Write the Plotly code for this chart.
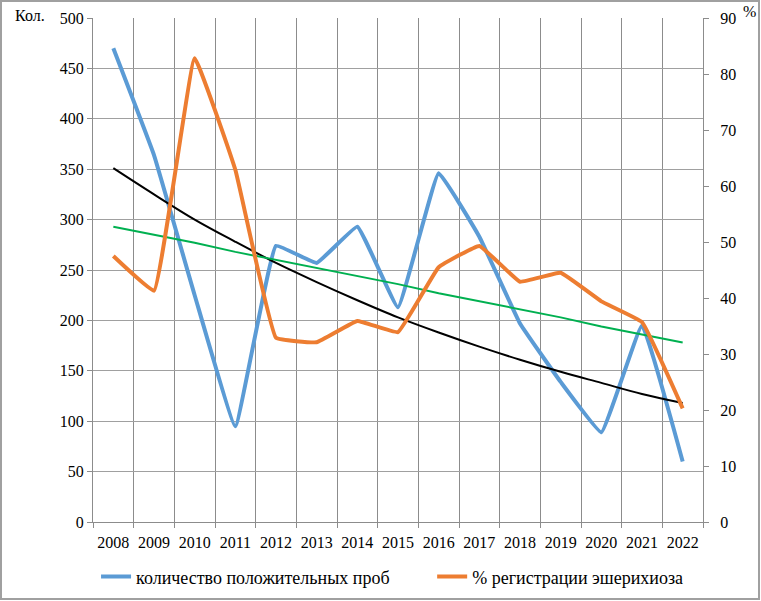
import plotly.graph_objects as go

years = ["2008", "2009", "2010", "2011", "2012", "2013", "2014", "2015",
         "2016", "2017", "2018", "2019", "2020", "2021", "2022"]
positive_samples = [470, 364, 225, 95, 274, 257, 293, 213, 346, 283, 197, 139, 89, 195, 60]
escherichiosis_pct = [47.5, 41.3, 82.8, 62.9, 32.9, 32.1, 35.9, 33.9, 45.5, 49.3, 42.9, 44.5, 39.4, 35.7, 20.3]
trend_exp = [351, 325, 300, 278, 257, 238, 220, 203, 188, 174, 161, 149, 138, 127, 118]
trend_lin = [293, 285, 277, 268, 260, 252, 244, 236, 227, 219, 211, 203, 194, 186, 178]

name_blue = "количество положительных проб"
name_orange = "% регистрации эшерихиоза"

FONT = "Liberation Serif"

fig = go.Figure()
fig.add_trace(go.Scatter(x=years, y=positive_samples, name=name_blue, mode="lines",
                         legend="legend",
                         line=dict(color="#5B9BD5", width=4, shape="spline", smoothing=0.25)))
fig.add_trace(go.Scatter(x=years, y=escherichiosis_pct, name=name_orange, mode="lines", yaxis="y2",
                         legend="legend2",
                         line=dict(color="#ED7D31", width=4, shape="spline", smoothing=0.25)))
fig.add_trace(go.Scatter(x=years, y=trend_exp, mode="lines", showlegend=False,
                         line=dict(color="#000000", width=2, shape="spline")))
fig.add_trace(go.Scatter(x=years, y=trend_lin, mode="lines", showlegend=False,
                         line=dict(color="#00B050", width=2)))

W, H = 761, 601
ml, mr, mt, mb = 93, 58, 18, 79
pw, ph = W - ml - mr, H - mt - mb

legend_common = dict(orientation="h", xanchor="left", y=-0.072, yanchor="top",
                     font=dict(family=FONT, size=18, color="#000"),
                     bgcolor="rgba(0,0,0,0)")

fig.update_layout(
    width=W, height=H,
    margin=dict(l=ml, r=mr, t=mt, b=mb, autoexpand=False),
    paper_bgcolor="white", plot_bgcolor="white",
    font=dict(family=FONT, size=16, color="#000"),
    xaxis=dict(type="category", tickson="boundaries", showgrid=True, gridcolor="#8c8c8c",
               gridwidth=1, showline=True, linecolor="#8c8c8c", ticks="outside",
               ticklen=5, tickcolor="#8c8c8c", tickfont=dict(family=FONT, size=16),
               tickangle=0, automargin=False, ticklabelstandoff=6, range=[-0.5, 14.5]),
    yaxis=dict(range=[0, 500], dtick=50, showgrid=True, gridcolor="#a0a0a0", gridwidth=1,
               showline=True, linecolor="#8c8c8c", ticks="outside", ticklen=5,
               tickcolor="#8c8c8c", zeroline=False, automargin=False,
               tickfont=dict(family=FONT, size=16)),
    yaxis2=dict(range=[0, 90], dtick=10, overlaying="y", side="right", showgrid=False,
                showline=True, linecolor="#8c8c8c", ticks="outside", ticklen=5,
                tickcolor="#8c8c8c", zeroline=False, automargin=False,
                ticklabelstandoff=8, tickfont=dict(family=FONT, size=16)),
    legend=dict(x=0.005, **legend_common),
    legend2=dict(x=0.556, **legend_common),
    showlegend=True,
)

fig.add_annotation(text="Кол.", xref="paper", yref="paper", x=-0.076, y=1.005,
                   xanchor="right", yanchor="middle", showarrow=False,
                   font=dict(family=FONT, size=16))
fig.add_annotation(text="%", xref="paper", yref="paper", x=1.062, y=1.012,
                   xanchor="left", yanchor="middle", showarrow=False,
                   font=dict(family=FONT, size=16))

fig.add_shape(type="rect", xref="paper", yref="paper",
              x0=(1 - ml) / pw, x1=(W - 2 - ml) / pw,
              y0=-(H - 2 - (mt + ph)) / ph, y1=1 + (mt - 1) / ph,
              line=dict(color="#a0a0a0", width=2))

fig.write_html("out.html", config={"displayModeBar": False},
               post_script="document.body.style.margin='0';")
